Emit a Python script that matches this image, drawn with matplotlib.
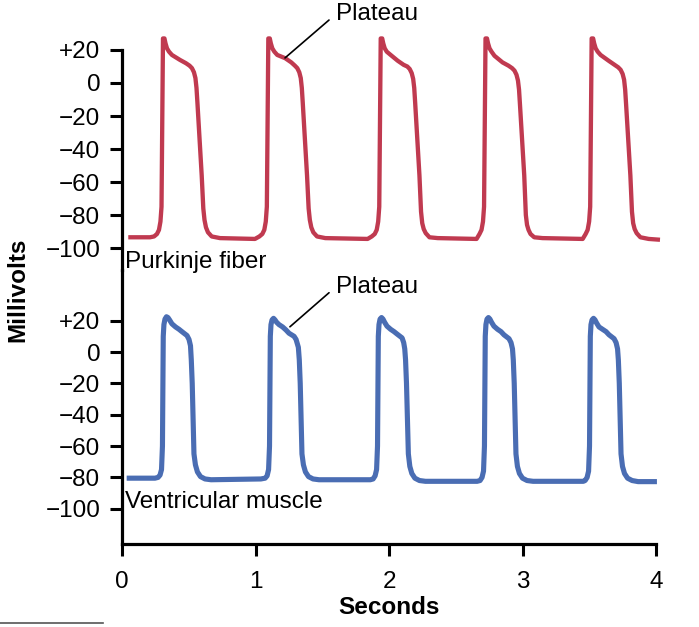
import matplotlib
matplotlib.use("Agg")
import matplotlib.pyplot as plt
from matplotlib.lines import Line2D

plt.rcParams['font.family'] = ['Liberation Sans', 'DejaVu Sans']

# Purkinje fiber trace (seconds, millivolts)
purkinje_t = [0.047, 0.210, 0.240, 0.262, 0.277, 0.288, 0.296, 0.307, 0.318, 0.326,
              0.337, 0.352, 0.374, 0.434, 0.479, 0.506, 0.524, 0.539, 0.550, 0.558,
              0.565, 0.597, 0.609, 0.618, 0.629, 0.644, 0.672, 0.734, 0.996,
              1.029, 1.051, 1.066, 1.077, 1.085, 1.096, 1.107, 1.115, 1.126, 1.141,
              1.163, 1.223, 1.268, 1.295, 1.313, 1.328, 1.339, 1.347, 1.354, 1.386,
              1.398, 1.407, 1.418, 1.433, 1.461, 1.523, 1.840,
              1.871, 1.893, 1.908, 1.919, 1.927, 1.938, 1.949, 1.957, 1.968, 1.983,
              2.005, 2.065, 2.110, 2.137, 2.155, 2.170, 2.181, 2.189, 2.196, 2.228,
              2.240, 2.249, 2.260, 2.275, 2.303, 2.365, 2.656,
              2.678, 2.693, 2.704, 2.712, 2.723, 2.734, 2.742, 2.753, 2.768, 2.790,
              2.850, 2.895, 2.922, 2.940, 2.955, 2.966, 2.974, 2.981, 3.013, 3.025,
              3.034, 3.045, 3.060, 3.088, 3.150, 3.451,
              3.473, 3.488, 3.499, 3.507, 3.518, 3.529, 3.537, 3.548, 3.563, 3.585,
              3.645, 3.690, 3.717, 3.735, 3.750, 3.761, 3.769, 3.776, 3.808, 3.820,
              3.829, 3.840, 3.855, 3.883, 3.945, 4.030]
purkinje_mv = [-93.5, -93.5, -93, -91.5, -89, -84, -75, 27, 27, 24,
               21, 19, 17, 14, 12, 10.5, 9, 6.5, 3, -3,
               -12, -56, -76, -83, -87.5, -90.5, -93, -94, -94.5,
               -93, -91.5, -89, -84, -75, 27, 27, 24, 21, 19,
               17, 15, 12.5, 10.5, 9, 6.5, 3, -3, -12, -56,
               -76, -83, -87.5, -90.5, -93, -94, -94.5,
               -93, -91.5, -89, -84, -75, 27, 27, 24, 21, 19,
               17.5, 13.5, 11, 10, 8.5, 6, 2.5, -3, -12, -56,
               -78, -85, -88.5, -91, -93.5, -94, -94.5,
               -91.5, -89, -84, -75, 27, 27, 24, 21, 19, 16.5,
               12.5, 10.5, 9, 7.5, 5, 1.5, -4, -13, -56, -80,
               -86, -89, -91.5, -93.5, -94, -94.5,
               -91.5, -89, -84, -75, 27, 27, 24, 21, 19, 17,
               13.5, 11, 9.5, 8, 5.5, 2, -4, -13, -56, -78,
               -85, -88.5, -91, -93.5, -94.5, -95]

# Ventricular muscle trace
ventricle_t = [0.035, 0.247, 0.270, 0.285, 0.296, 0.303, 0.309, 0.314, 0.322, 0.333,
               0.344, 0.356, 0.374, 0.401, 0.427, 0.449, 0.487, 0.502, 0.513, 0.519,
               0.526, 0.539, 0.550, 0.565, 0.588, 0.622, 0.667, 1.040,
               1.072, 1.087, 1.098, 1.105, 1.111, 1.116, 1.124, 1.135, 1.146, 1.158,
               1.176, 1.203, 1.229, 1.251, 1.289, 1.304, 1.321, 1.328, 1.335, 1.348,
               1.359, 1.374, 1.397, 1.431, 1.476, 1.860,
               1.881, 1.896, 1.907, 1.914, 1.920, 1.925, 1.933, 1.944, 1.955, 1.967,
               1.985, 2.012, 2.038, 2.060, 2.098, 2.110, 2.118, 2.124, 2.131, 2.145,
               2.156, 2.171, 2.194, 2.228, 2.273, 2.660,
               2.682, 2.697, 2.708, 2.715, 2.721, 2.726, 2.734, 2.745, 2.756, 2.768,
               2.786, 2.813, 2.839, 2.861, 2.899, 2.914, 2.925, 2.931, 2.938, 2.951,
               2.962, 2.977, 3.000, 3.034, 3.079, 3.455,
               3.469, 3.484, 3.495, 3.502, 3.508, 3.513, 3.521, 3.532, 3.543, 3.555,
               3.573, 3.600, 3.626, 3.648, 3.686, 3.701, 3.712, 3.718, 3.725, 3.738,
               3.749, 3.764, 3.787, 3.821, 3.866, 4.007]
ventricle_mv = [-80.5, -80.5, -80, -78.5, -75, -60, 10, 17.5, 21, 22.5,
                22, 20.5, 18, 16, 14.5, 13, 10.5, 8, 4, -5,
                -20, -65, -72, -76.5, -79.5, -81, -81.5, -81,
                -80.5, -79, -75, -60, 10, 17.5, 20.5, 21.5, 20.5, 19,
                17.5, 16, 14, 12, 10, 8, 3, -5, -20, -65,
                -72, -76.5, -79.5, -81, -81.5, -81.5,
                -81, -79, -75, -60, 10, 17.5, 21, 22, 21, 19,
                16.5, 14.5, 13, 11.5, 9, 6, 2, -5, -20, -65,
                -73, -77.5, -80.5, -82, -82.5, -82.5,
                -82, -80, -76, -60, 10, 17.5, 21, 22, 21, 19,
                16.5, 14.5, 13, 11, 8.5, 6, 2, -5, -20, -65,
                -73, -77.5, -80.5, -82, -82.5, -82.5,
                -82, -80, -76, -60, 10, 17.5, 20.5, 21.5, 20.5, 18.5,
                16, 14.5, 13, 11, 8.5, 6, 2, -5, -20, -65,
                -73, -77.5, -80.5, -82, -82.7, -82.7]

mv_ticks = [20, 0, -20, -40, -60, -80, -100]
mv_labels = ['+20', '0', '\u221220', '\u221240', '\u221260', '\u221280', '\u2212100']
sec_ticks = [0, 1, 2, 3, 4]

red = '#C03A50'
blue = '#4A6DB3'
fs = 17.5

fig = plt.figure(figsize=(6.99, 6.27), dpi=100)
left, width = 122 / 699, 534 / 699
ax_top = fig.add_axes([left, (627 - 270) / 627, width, 250 / 627])
ax_bot = fig.add_axes([left, (627 - 544) / 627, width, 274 / 627])

ax_top.plot(purkinje_t, purkinje_mv, color=red, lw=3.1, clip_on=False,
            solid_joinstyle='round', solid_capstyle='butt')
ax_bot.plot(ventricle_t, ventricle_mv, color=blue, lw=3.7, clip_on=False,
            solid_joinstyle='round', solid_capstyle='butt')

ax_top.set_ylim(-113.33, 38.18)
ax_bot.set_ylim(-122.5, 52.33)

for ax in (ax_top, ax_bot):
    ax.set_xlim(0, 4)
    ax.patch.set_visible(False)
    for s in ('top', 'right'):
        ax.spines[s].set_visible(False)
    for s in ('left', 'bottom'):
        ax.spines[s].set_linewidth(2.3)
    ax.set_yticks(mv_ticks)
    ax.set_yticklabels(mv_labels)
    ax.tick_params(axis='y', direction='out', length=8.6, width=2.2,
                   labelsize=fs, pad=7)

ax_top.spines['bottom'].set_visible(False)
ax_top.spines['left'].set_bounds(-113.33, 20)
ax_top.set_xticks([])

ax_bot.set_xticks(sec_ticks)
ax_bot.set_xticklabels([str(s) for s in sec_ticks])
ax_bot.tick_params(axis='x', direction='out', length=8.6, width=2.2,
                   labelsize=fs, pad=11)

ax_top.annotate('Plateau', xy=(1.221, 15.2), xytext=(1.603, 41.8),
                fontsize=fs, ha='left', va='center', annotation_clip=False,
                arrowprops=dict(arrowstyle='-', color='black', lw=1.2,
                                shrinkA=4, shrinkB=0, relpos=(0, 0.5)))
ax_bot.annotate('Plateau', xy=(1.258, 16.1), xytext=(1.603, 41.7),
                fontsize=fs, ha='left', va='center', annotation_clip=False,
                arrowprops=dict(arrowstyle='-', color='black', lw=1.2,
                                shrinkA=4, shrinkB=0, relpos=(0, 0.5)))

fig.text(125 / 699, 1 - 262 / 627, 'Purkinje fiber', fontsize=fs,
         ha='left', va='center')
fig.text(125 / 699, 1 - 502 / 627, 'Ventricular muscle', fontsize=fs,
         ha='left', va='center')

fig.text(389 / 699, 1 - 608 / 627, 'Seconds', fontsize=fs, fontweight='bold',
         ha='center', va='center')
fig.text(18 / 699, 1 - 290 / 627, 'Millivolts', fontsize=fs, fontweight='bold',
         rotation=90, ha='center', va='center')

fig.add_artist(Line2D([0, 103 / 699], [1 - 623 / 627, 1 - 623 / 627],
                      color='#555555', lw=1.2))

fig.savefig('out.png', dpi=100)
